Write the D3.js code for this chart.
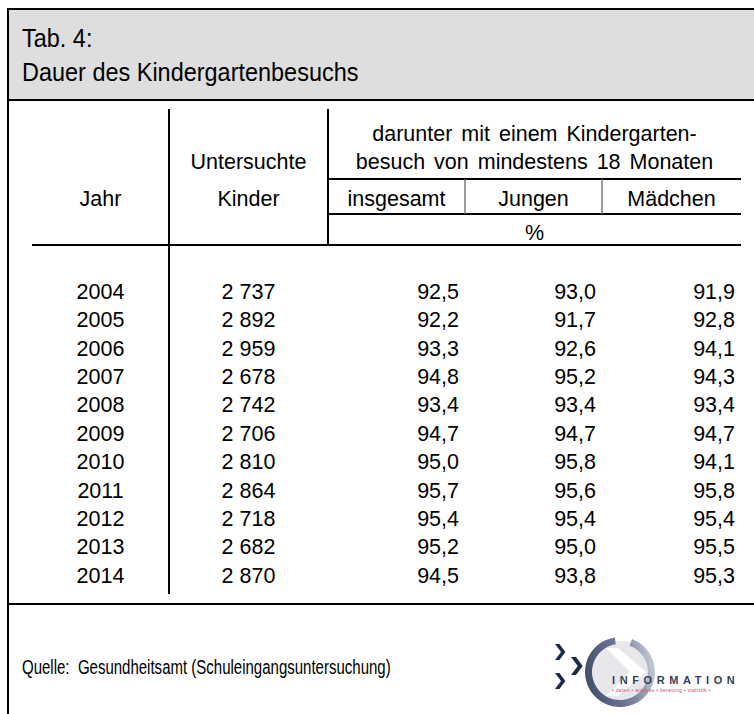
<!DOCTYPE html>
<html>
<head>
<meta charset="utf-8">
<script src="https://cdn.jsdelivr.net/npm/d3@7"></script>
<style>
  html, body { margin: 0; padding: 0; background: #fff; }
  svg { display: block; font-family: "Liberation Sans", Arial, sans-serif; }
</style>
</head>
<body>
<svg id="chart" width="754" height="714"></svg>
<script>
// ---- Data ----
const titleLines = ["Tab. 4:", "Dauer des Kindergartenbesuchs"];
const years = [2004, 2005, 2006, 2007, 2008, 2009, 2010, 2011, 2012, 2013, 2014];
const untersuchteKinder = [2737, 2892, 2959, 2678, 2742, 2706, 2810, 2864, 2718, 2682, 2870];
const insgesamt = [92.5, 92.2, 93.3, 94.8, 93.4, 94.7, 95.0, 95.7, 95.4, 95.2, 94.5];
const jungen    = [93.0, 91.7, 92.6, 95.2, 93.4, 94.7, 95.8, 95.6, 95.4, 95.0, 93.8];
const maedchen  = [91.9, 92.8, 94.1, 94.3, 93.4, 94.7, 94.1, 95.8, 95.4, 95.5, 95.3];
const headJahr = "Jahr";
const headKinder = ["Untersuchte", "Kinder"];
const headGroup = ["darunter mit einem Kindergarten-", "besuch von mindestens 18 Monaten"];
const headSub = ["insgesamt", "Jungen", "Mädchen"];
const headUnit = "%";
const source = "Quelle:  Gesundheitsamt (Schuleingangsuntersuchung)";
const logoWord = "INFORMATION";
const logoTag = "• daten • analyse • beratung • statistik •";

const de = d3.formatLocale({decimal: ",", thousands: " ", grouping: [3], currency: ["", " €"]});
const fmtInt = de.format(",d");
const fmtPct = de.format(".1f");

const svg = d3.select("#chart");
const W = 754, H = 714;

// frame
const frameL = 8, frameT = 9, bandB = 100;
svg.append("rect").attr("x", frameL).attr("y", frameT).attr("width", W + 20).attr("height", bandB - frameT)
  .attr("fill", "#dedede");
svg.append("path").attr("d", `M${frameL},${H + 5}V${frameT}H${W + 5}`)
  .attr("fill", "none").attr("stroke", "#000").attr("stroke-width", 2);
svg.append("line").attr("x1", frameL).attr("x2", W + 5).attr("y1", bandB).attr("y2", bandB)
  .attr("stroke", "#000").attr("stroke-width", 2);

// title (slightly condensed)
svg.append("g").attr("transform", "translate(22,0) scale(0.92,1)")
  .selectAll("text").data(titleLines).join("text")
  .attr("x", 0).attr("y", (d, i) => 47 + i * 34)
  .attr("font-size", 25.5).attr("fill", "#000").text(d => d);

// columns
const colEdges = {jahr: [32, 169], kinder: [169, 328], ins: [328, 465], jun: [465, 602], mad: [602, 741]};
const tableRight = 741;

// row scale
const y = d3.scaleBand().domain(years).range([277, 277 + years.length * 28.4]);

// header lines
const hdr = svg.append("g").attr("stroke", "#000");
hdr.append("line").attr("x1", 169).attr("x2", 169).attr("y1", 109).attr("y2", 594).attr("stroke-width", 2);
hdr.append("line").attr("x1", 328).attr("x2", 328).attr("y1", 109).attr("y2", 245).attr("stroke-width", 2);
hdr.append("line").attr("x1", 328).attr("x2", tableRight).attr("y1", 179).attr("y2", 179).attr("stroke-width", 2);
hdr.append("line").attr("x1", 328).attr("x2", tableRight).attr("y1", 214).attr("y2", 214).attr("stroke-width", 2);
hdr.append("line").attr("x1", 32).attr("x2", tableRight).attr("y1", 245).attr("y2", 245).attr("stroke-width", 2);
[465, 602].forEach(x => hdr.append("line").attr("x1", x).attr("x2", x).attr("y1", 179).attr("y2", 214)
  .attr("stroke", "#666").attr("stroke-width", 1.3));
// footer line
svg.append("line").attr("x1", frameL).attr("x2", W + 5).attr("y1", 604).attr("y2", 604)
  .attr("stroke", "#000").attr("stroke-width", 2);

const fs = 21.5;
const mid = e => (e[0] + e[1]) / 2;
const ht = svg.append("g").attr("font-size", fs).attr("fill", "#000").attr("text-anchor", "middle");
ht.append("text").attr("x", mid(colEdges.jahr)).attr("y", 206).text(headJahr);
ht.append("text").attr("x", mid(colEdges.kinder)).attr("y", 169).text(headKinder[0]);
ht.append("text").attr("x", mid(colEdges.kinder)).attr("y", 206).text(headKinder[1]);
ht.append("text").attr("x", mid([328, tableRight])).attr("y", 141).attr("word-spacing", 3).text(headGroup[0]);
ht.append("text").attr("x", mid([328, tableRight])).attr("y", 169).attr("word-spacing", 3).text(headGroup[1]);
[colEdges.ins, colEdges.jun, colEdges.mad].forEach((e, i) =>
  ht.append("text").attr("x", mid(e)).attr("y", 206).text(headSub[i]));
ht.append("text").attr("x", mid([328, tableRight])).attr("y", 240).text(headUnit);

// body
const body = svg.append("g").attr("font-size", 21.5).attr("fill", "#000");
const rows = body.selectAll("g.row").data(years.map((yr, i) => ({
  yr, k: untersuchteKinder[i], a: insgesamt[i], j: jungen[i], m: maedchen[i]
}))).join("g").attr("class", "row")
  .attr("transform", d => `translate(0,${y(d.yr) + y.bandwidth() / 2 + 7.5})`);
rows.append("text").attr("x", mid(colEdges.jahr)).attr("text-anchor", "middle").text(d => d.yr);
rows.append("text").attr("x", mid(colEdges.kinder)).attr("text-anchor", "middle").text(d => fmtInt(d.k));
rows.append("text").attr("x", colEdges.ins[1] - 6).attr("text-anchor", "end").text(d => fmtPct(d.a));
rows.append("text").attr("x", colEdges.jun[1] - 6).attr("text-anchor", "end").text(d => fmtPct(d.j));
rows.append("text").attr("x", colEdges.mad[1] - 6).attr("text-anchor", "end").text(d => fmtPct(d.m));

// source (condensed)
svg.append("g").attr("transform", "translate(22,674) scale(0.77,1)")
  .append("text").attr("font-size", 19.5).attr("fill", "#000")
  .style("white-space", "pre").text(source);

// logo
const logo = svg.append("g");
const cx = 620, cy = 672, r = 35;
const defs = svg.append("defs");
const grad = defs.append("linearGradient").attr("id", "arcg")
  .attr("x1", "0").attr("x2", "1").attr("y1", "0.2").attr("y2", "0");
grad.append("stop").attr("offset", "0").attr("stop-color", "#46526f");
grad.append("stop").attr("offset", "0.55").attr("stop-color", "#7a83a0");
grad.append("stop").attr("offset", "1").attr("stop-color", "#d9dbe3");
logo.append("circle").attr("cx", cx + 2).attr("cy", cy).attr("r", r - 4).attr("fill", "#e8e8ec");
logo.append("path")
  .attr("d", `M${cx - 2},${cy - 24} L${cx + 26},${cy} L${cx - 2},${cy + 24} L${cx - 14},${cy + 24} L${cx + 10},${cy} L${cx - 14},${cy - 24}Z`)
  .attr("fill", "#fff");
logo.append("path").attr("transform", `translate(${cx},${cy})`)
  .attr("d", d3.arc().innerRadius(r - 7).outerRadius(r).startAngle(0.35).endAngle(Math.PI * 2 - 0.15)())
  .attr("fill", "url(#arcg)");
const chev = (x, yy, s) => `M${x},${yy - s} L${x + s * 0.75},${yy} L${x},${yy + s} L${x + s * 0.55},${yy + s} L${x + s * 1.3},${yy} L${x + s * 0.55},${yy - s}Z`;
logo.append("path").attr("d", chev(555, 652, 8)).attr("fill", "#1c2a4a");
logo.append("path").attr("d", chev(555, 681, 8)).attr("fill", "#1c2a4a");
logo.append("path").attr("d", chev(571, 666, 9)).attr("fill", "#1c2a4a");
logo.append("text").attr("x", 612).attr("y", 684).attr("font-size", 11).attr("font-weight", "bold")
  .attr("letter-spacing", 4.6).attr("fill", "#34405c").text(logoWord);
logo.append("text").attr("x", 612).attr("y", 692).attr("font-size", 5).attr("letter-spacing", 0.3)
  .attr("fill", "#c0566e").text(logoTag);
</script>
</body>
</html>
